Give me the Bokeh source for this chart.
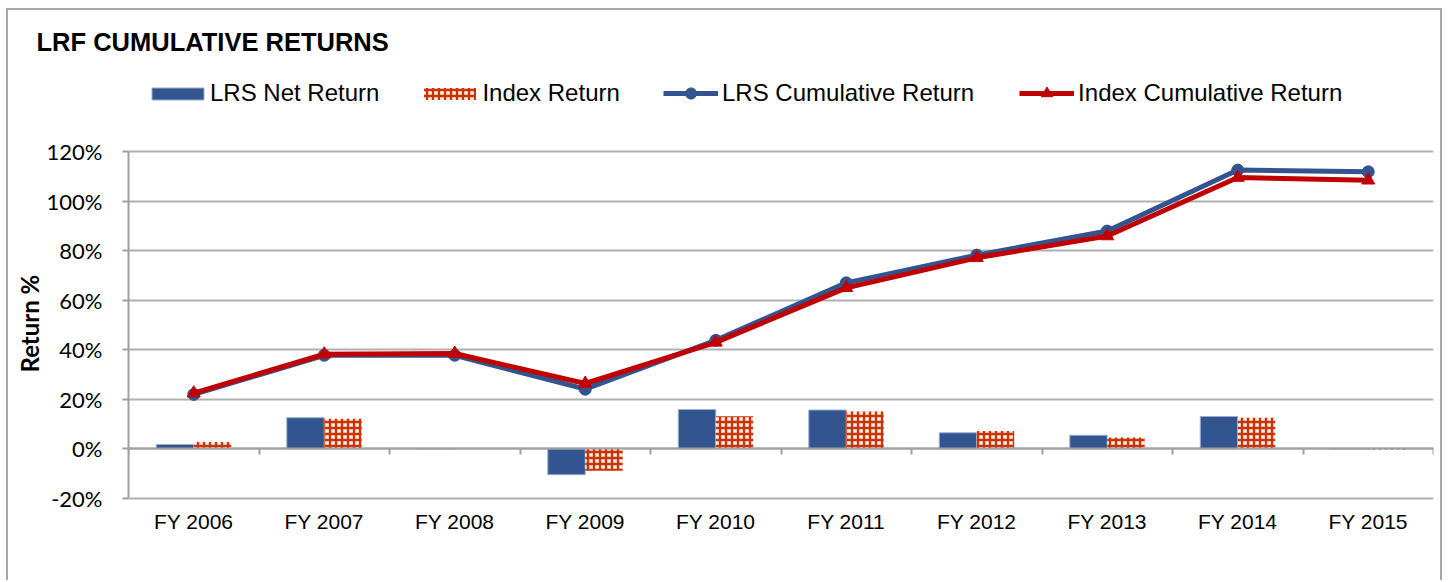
from bokeh.plotting import figure
from bokeh.models import (ColumnDataSource, LinearAxis, FixedTicker, Range1d, Legend,
                          LegendItem, PrintfTickFormatter, Title)
from bokeh.transform import dodge
from bokeh.embed import file_html
from bokeh.resources import INLINE

categories = ["FY 2006", "FY 2007", "FY 2008", "FY 2009", "FY 2010",
              "FY 2011", "FY 2012", "FY 2013", "FY 2014", "FY 2015"]
lrs_net = [1.8, 12.6, 0.0, -10.4, 15.9, 15.7, 6.5, 5.5, 13.1, 0.0]
index_ret = [2.8, 12.2, 0.1, -8.8, 13.2, 15.1, 7.2, 4.6, 12.6, -0.3]
lrs_cum = [22.0, 37.8, 37.8, 24.1, 43.8, 67.0, 78.2, 87.9, 112.5, 111.8]
index_cum = [22.5, 38.2, 38.5, 26.4, 43.0, 65.0, 77.1, 85.9, 109.5, 108.4]
y_ticks = [-20, 0, 20, 40, 60, 80, 100, 120]

BLUE = "#33558F"
RED_LINE = "#C00000"
RED_HATCH = "#CC3300"
GRID = "#B0B0B0"
AXIS = "#A0A0A0"
FRAME = "#A8A8A8"

n = len(categories)
x_center = [i + 0.5 for i in range(n)]
bar_w = 0.287

# ---- page geometry (pixels) ----
FIG_X, FIG_Y = 8, 10            # figure offset on page
FIG_W, FIG_H = 1432, 572
FRAME_TOP = 60                  # page y of frame top (title sits above)
Y_TOP_PX, Y_BOT_PX = 151, 498   # page y of the 120% and -20% gridlines
ppu = (Y_BOT_PX - Y_TOP_PX) / (y_ticks[-1] - y_ticks[0])
y_end = y_ticks[-1] + (Y_TOP_PX - FRAME_TOP) / ppu
y_start = y_ticks[0] - (FIG_Y + FIG_H - Y_BOT_PX) / ppu

src = ColumnDataSource(dict(x=x_center, cat=categories, lrs_net=lrs_net,
                            index_ret=index_ret, lrs_cum=lrs_cum, index_cum=index_cum))

p = figure(width=FIG_W, height=FIG_H, output_backend="svg", toolbar_location=None,
           x_range=Range1d(0, n), y_range=Range1d(y_start, y_end),
           x_axis_location=None,
           min_border_left=120, min_border_right=7, min_border_top=FRAME_TOP - FIG_Y,
           min_border_bottom=0,
           title="LRF CUMULATIVE RETURNS")
p.styles = {"margin-left": f"{FIG_X}px", "margin-top": f"{FIG_Y}px",
            "box-shadow": f"-2px -2px 0 0 {FRAME}, 2px -2px 0 0 {FRAME}"}
p.outline_line_color = None
p.background_fill_color = "white"
p.border_fill_color = "white"

# title
p.title.text_font = "Liberation Sans"
p.title.text_font_size = "25.5px"
p.title.text_font_style = "bold"
p.title.text_color = "black"
p.title.align = "left"
p.title.offset = -92
p.title.standoff = 10

# grid
p.xgrid.visible = False
p.ygrid.ticker = FixedTicker(ticks=y_ticks)
p.ygrid.grid_line_color = GRID
p.ygrid.grid_line_width = 2

# y axis
yax = p.yaxis[0]
yax.ticker = FixedTicker(ticks=y_ticks)
yax.bounds = (y_ticks[0], y_ticks[-1])
yax.formatter = PrintfTickFormatter(format="%d%%")
yax.axis_line_color = AXIS
yax.axis_line_width = 2
yax.major_tick_line_color = AXIS
yax.major_tick_line_width = 2
yax.major_tick_in = 0
yax.major_tick_out = 6
yax.minor_tick_line_color = None
yax.major_label_standoff = 20
yax.major_label_text_font = "Lato"
yax.major_label_text_font_size = "22px"
yax.major_label_text_color = "black"

# y axis title placed along the left side
ytitle = Title(text="Return %", align="left", offset=210, standoff=0,
               text_font="Lato", text_font_size="24px", text_font_style="bold",
               text_color="black")
p.add_layout(ytitle, "left")

# category labels (axis fixed at the bottom gridline)
xax = LinearAxis(fixed_location=y_ticks[0], ticker=FixedTicker(ticks=x_center),
                 major_label_overrides={x: c for x, c in zip(x_center, categories)},
                 axis_line_color=None, major_tick_line_color=None, minor_tick_line_color=None,
                 major_label_standoff=5, major_label_text_font="Liberation Sans",
                 major_label_text_font_size="21px", major_label_text_color="black")
p.add_layout(xax, "below")

# zero axis with ticks between categories
zax = LinearAxis(fixed_location=0, ticker=FixedTicker(ticks=list(range(n + 1))),
                 axis_line_color=AXIS, axis_line_width=2,
                 major_tick_line_color=AXIS, major_tick_line_width=2,
                 major_tick_in=0, major_tick_out=6, minor_tick_line_color=None,
                 major_label_text_color=None)
p.add_layout(zax, "below")

b1 = p.vbar(x=dodge("x", -bar_w / 2, range=p.x_range), top="lrs_net", bottom=0, width=bar_w,
            source=src, fill_color=BLUE, line_color="#9AAED0", line_width=1)
b2 = p.vbar(x=dodge("x", bar_w / 2, range=p.x_range), top="index_ret", bottom=0, width=bar_w,
            source=src, fill_color="#FBEFEA", line_color=None,
            hatch_pattern="cross", hatch_color=RED_HATCH, hatch_scale=6, hatch_weight=2.3)

l1 = p.line(x="x", y="lrs_cum", source=src, line_color=BLUE, line_width=5, line_join="round")
m1 = p.scatter(x="x", y="lrs_cum", source=src, marker="circle", size=12,
               fill_color=BLUE, line_color=BLUE)
l2 = p.line(x="x", y="index_cum", source=src, line_color=RED_LINE, line_width=5, line_join="round")
m2 = p.scatter(x="x", y="index_cum", source=src, marker="triangle", size=13,
               fill_color=RED_LINE, line_color=RED_LINE)

common = dict(orientation="horizontal", padding=0, margin=0, border_line_color=None,
              background_fill_alpha=0, label_text_font="Liberation Sans",
              label_text_font_size="24px", label_text_color="black")
legA = Legend(items=[LegendItem(label="LRS Net Return", renderers=[b1]),
                     LegendItem(label="Index Return", renderers=[b2])],
              location=(17, 475), glyph_width=65, glyph_height=15, label_standoff=0,
              spacing=38, **common)
legB = Legend(items=[LegendItem(label="LRS Cumulative Return", renderers=[l1, m1]),
                     LegendItem(label="Index Cumulative Return", renderers=[l2, m2])],
              location=(535, 475), glyph_width=55, glyph_height=28, label_standoff=4,
              spacing=45, **common)
p.add_layout(legA)
p.add_layout(legB)

open("out.html", "w").write(file_html(p, INLINE))
